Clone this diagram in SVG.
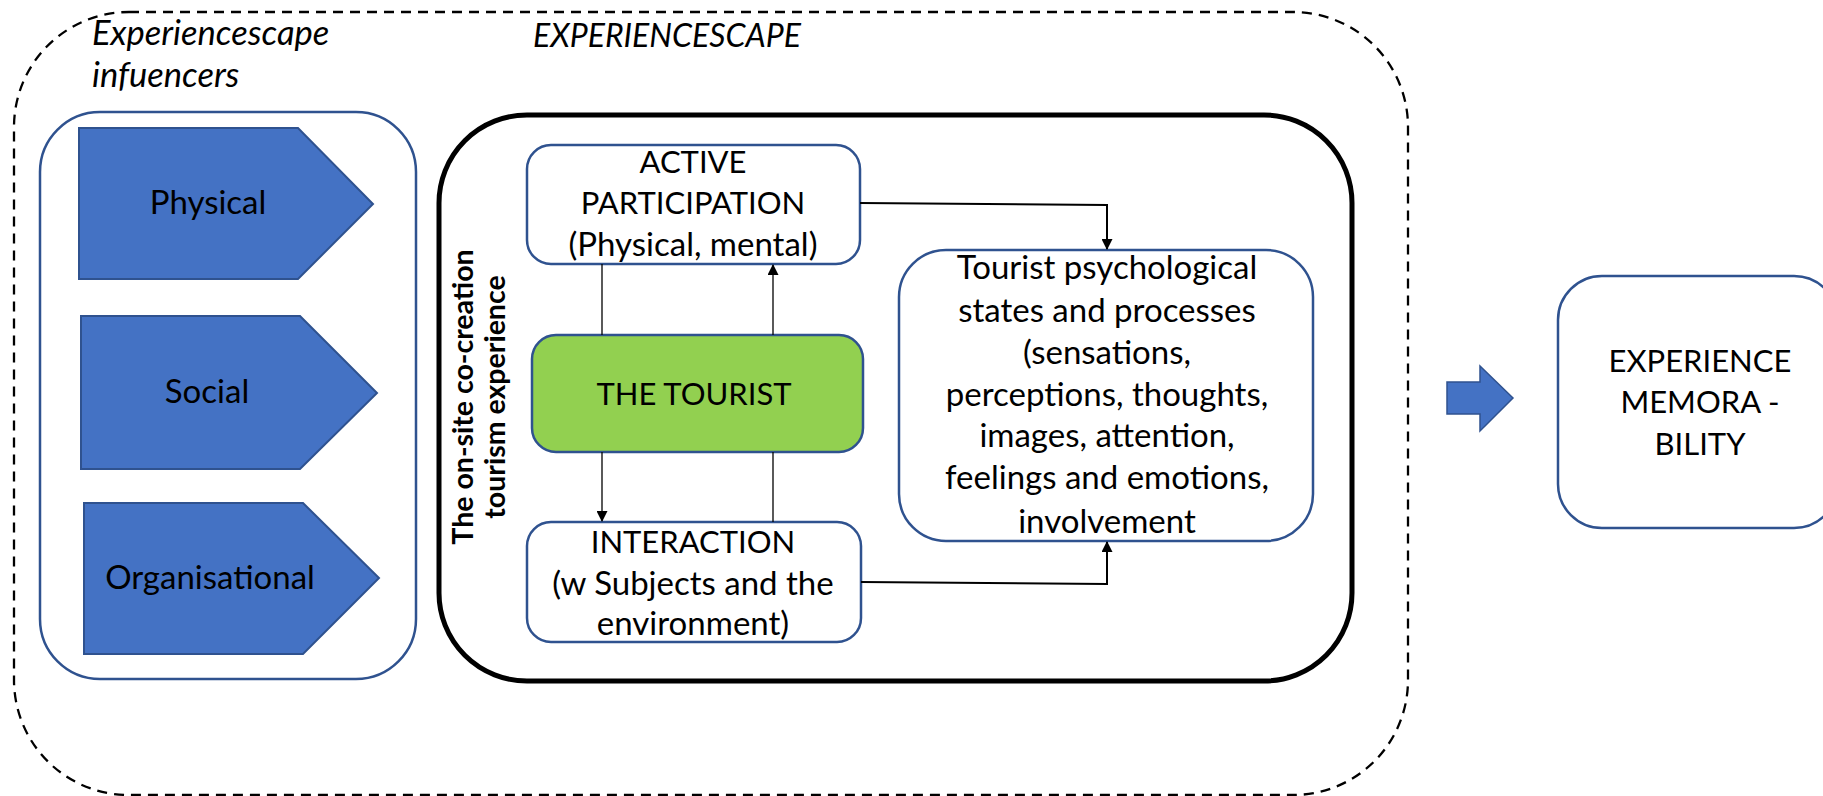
<svg xmlns="http://www.w3.org/2000/svg" width="1823" height="796" viewBox="0 0 1823 796">
<style>
.t{font-family:Lato,"Liberation Sans",sans-serif;font-size:33px;fill:#000;text-anchor:middle}
.c{font-size:31px}
.it{font-family:Lato,"Liberation Sans",sans-serif;font-size:34.5px;font-style:italic;fill:#000}
.vt{font-family:Lato,"Liberation Sans",sans-serif;font-size:28.5px;font-weight:bold;fill:#000;text-anchor:middle}
.box{fill:#fff;stroke:#2F528F;stroke-width:2.5}
.pent{fill:#4472C4;stroke:#2F528F;stroke-width:2}
.conn{stroke:#000;stroke-width:1.3;fill:none}
.conn2{stroke:#000;stroke-width:2;fill:none}
</style>
<defs>
<marker id="ah" markerUnits="userSpaceOnUse" markerWidth="11" markerHeight="11" refX="10" refY="5.5" orient="auto" viewBox="0 0 11 11">
<path d="M0,0 L11,5.5 L0,11 z" fill="#000"/>
</marker>
</defs>
<rect width="1823" height="796" fill="#fff"/>
<g id="outer">
<rect x="14" y="12" width="1394" height="783" rx="115" ry="115" fill="none" stroke="#000" stroke-width="2.3" stroke-dasharray="10 7"/>
<text class="it" x="92" y="45">Experiencescape</text>
<text class="it" x="92" y="87">infuencers</text>
<text class="it" x="533" y="47" style="font-size:32px">EXPERIENCESCAPE</text>
</g>
<g id="influencers">
<rect class="box" x="40" y="112" width="376" height="567" rx="60" ry="60"/>
</g>
<g id="physical">
<polygon class="pent" points="79,128 298,128 373,204 298,279 79,279"/>
<text class="t" x="208" y="214">Physical</text>
</g>
<g id="social">
<polygon class="pent" points="81,316 300,316 377,393 300,469 81,469"/>
<text class="t" x="207" y="403">Social</text>
</g>
<g id="organisational">
<polygon class="pent" points="84,503 303,503 379,578 303,654 84,654"/>
<text class="t" x="210" y="589">Organisational</text>
</g>
<g id="cocreation">
<rect x="439" y="115" width="913" height="566" rx="88" ry="88" fill="none" stroke="#000" stroke-width="5"/>
<text class="vt" transform="translate(473,397) rotate(-90)">The on-site co-creation</text>
<text class="vt" transform="translate(505,397) rotate(-90)">tourism experience</text>
</g>
<g id="active">
<rect class="box" x="527" y="145" width="333" height="119" rx="24" ry="24"/>
<text class="t c" x="693" y="173">ACTIVE</text>
<text class="t c" x="693" y="214">PARTICIPATION</text>
<text class="t" x="693" y="256">(Physical, mental)</text>
</g>
<g id="tourist">
<rect x="532" y="335" width="331" height="117" rx="24" ry="24" fill="#92D050" stroke="#2F528F" stroke-width="2.5"/>
<text class="t c" x="694" y="405">THE TOURIST</text>
</g>
<g id="interaction">
<rect class="box" x="527" y="522" width="334" height="120" rx="24" ry="24"/>
<text class="t c" x="693" y="553">INTERACTION</text>
<text class="t" x="693" y="595">(w Subjects and the</text>
<text class="t" x="693" y="635">environment)</text>
</g>
<g id="psych">
<rect class="box" x="899" y="250" width="414" height="291" rx="47" ry="47"/>
<text class="t" x="1107" y="279">Tourist psychological</text>
<text class="t" x="1107" y="322">states and processes</text>
<text class="t" x="1107" y="364">(sensations,</text>
<text class="t" x="1107" y="406">perceptions, thoughts,</text>
<text class="t" x="1107" y="447">images, attention,</text>
<text class="t" x="1107" y="489">feelings and emotions,</text>
<text class="t" x="1107" y="533">involvement</text>
</g>
<g id="bigarrow">
<polygon points="1447,382 1480,382 1480,366 1513,398 1480,431 1480,414 1447,414" fill="#4472C4" stroke="#2F528F" stroke-width="1.5"/>
</g>
<g id="memorability">
<rect class="box" x="1558" y="276" width="280" height="252" rx="44" ry="44"/>
<text class="t c" x="1700" y="372">EXPERIENCE</text>
<text class="t c" x="1700" y="413">MEMORA -</text>
<text class="t c" x="1700" y="455">BILITY</text>
</g>
<g id="connectors">
<polyline class="conn2" points="860,203 1107,205 1107,249" marker-end="url(#ah)"/>
<line class="conn" x1="773" y1="335" x2="773" y2="265" marker-end="url(#ah)"/>
<line class="conn" x1="602" y1="264" x2="602" y2="335"/>
<line class="conn" x1="602" y1="452" x2="602" y2="521" marker-end="url(#ah)"/>
<line class="conn" x1="773" y1="452" x2="773" y2="522"/>
<polyline class="conn2" points="861,582 1107,584 1107,542" marker-end="url(#ah)"/>
</g>
</svg>
